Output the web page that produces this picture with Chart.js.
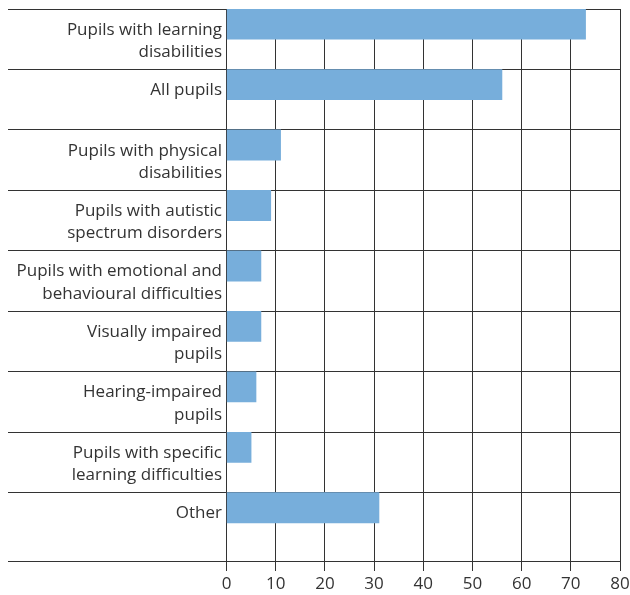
<!DOCTYPE html>
<html>
<head>
<meta charset="utf-8">
<script src="https://cdn.jsdelivr.net/npm/chart.js@4.4.1/dist/chart.umd.min.js"></script>
<style>
  html, body { margin: 0; padding: 0; background: #fff; }
</style>
</head>
<body>
<canvas id="pupilsChart" width="630" height="595"></canvas>
<script>
// Chart data
const categories = [
    ['Pupils with learning', 'disabilities'],
    ['All pupils', ''],
    ['Pupils with physical', 'disabilities'],
    ['Pupils with autistic', 'spectrum disorders'],
    ['Pupils with emotional and', 'behavioural difficulties'],
    ['Visually impaired', 'pupils'],
    ['Hearing-impaired', 'pupils'],
    ['Pupils with specific', 'learning difficulties'],
    ['Other', '']
];
const percentages = [73, 56, 11, 9, 7, 7, 6, 5, 31];
const xTicks = [0, 10, 20, 30, 40, 50, 60, 70, 80];

const lineColor = '#333';
const textColor = '#333';
const barColor = '#77aedb';
const labelFont = { family: "'Open Sans', sans-serif", size: 17, lineHeight: 1.32 };
const tickFont = { family: "'Open Sans', sans-serif", size: 17, lineHeight: 1 };

const ctx = document.getElementById('pupilsChart').getContext('2d');

new Chart(ctx, {
    type: 'bar',
    data: {
        labels: categories.map((c, i) => i),
        datasets: [
            {
                label: 'Percentage',
                data: percentages,
                backgroundColor: barColor,
                borderWidth: 0
            },
            {
                // empty companion set, keeps each bar in the upper half of its row
                label: '',
                data: categories.map(() => null)
            }
        ]
    },
    options: {
        indexAxis: 'y',
        responsive: false,
        animation: false,
        categoryPercentage: 1,
        barPercentage: 1,
        layout: {
            padding: { left: 8, right: 10, top: 9, bottom: 0 }
        },
        plugins: {
            legend: { display: false },
            tooltip: { enabled: false }
        },
        scales: {
            x: {
                type: 'linear',
                position: 'bottom',
                min: 0,
                max: 80,
                afterBuildTicks: scale => {
                    scale.ticks = xTicks.map(v => ({ value: v }));
                },
                afterFit: scale => {
                    // let the last tick label hang into the right margin
                    scale.paddingRight = 0;
                    scale.height = 34;
                },
                grid: { color: lineColor, lineWidth: 1, tickLength: 10 },
                border: { color: lineColor, width: 1 },
                ticks: { padding: 5, color: textColor, font: tickFont, maxRotation: 0 }
            },
            y: {
                type: 'linear',
                reverse: true,
                offset: false,
                min: -0.5,
                // the last row is a little deeper than the others
                max: categories.length - 0.37,
                afterBuildTicks: scale => {
                    scale.ticks = categories.map((c, i) => ({ value: i - 0.5 }))
                        .concat([{ value: scale.max }]);
                },
                afterFit: scale => {
                    scale.width = 218.5;
                },
                grid: { offset: false, color: lineColor, lineWidth: 1, tickLength: 218.5 },
                border: { color: lineColor, width: 1 },
                ticks: {
                    autoSkip: false,
                    padding: -214,
                    labelOffset: 32,
                    color: textColor,
                    font: labelFont,
                    callback: (value, index) => categories[index] || ''
                }
            }
        }
    }
});
</script>
</body>
</html>
